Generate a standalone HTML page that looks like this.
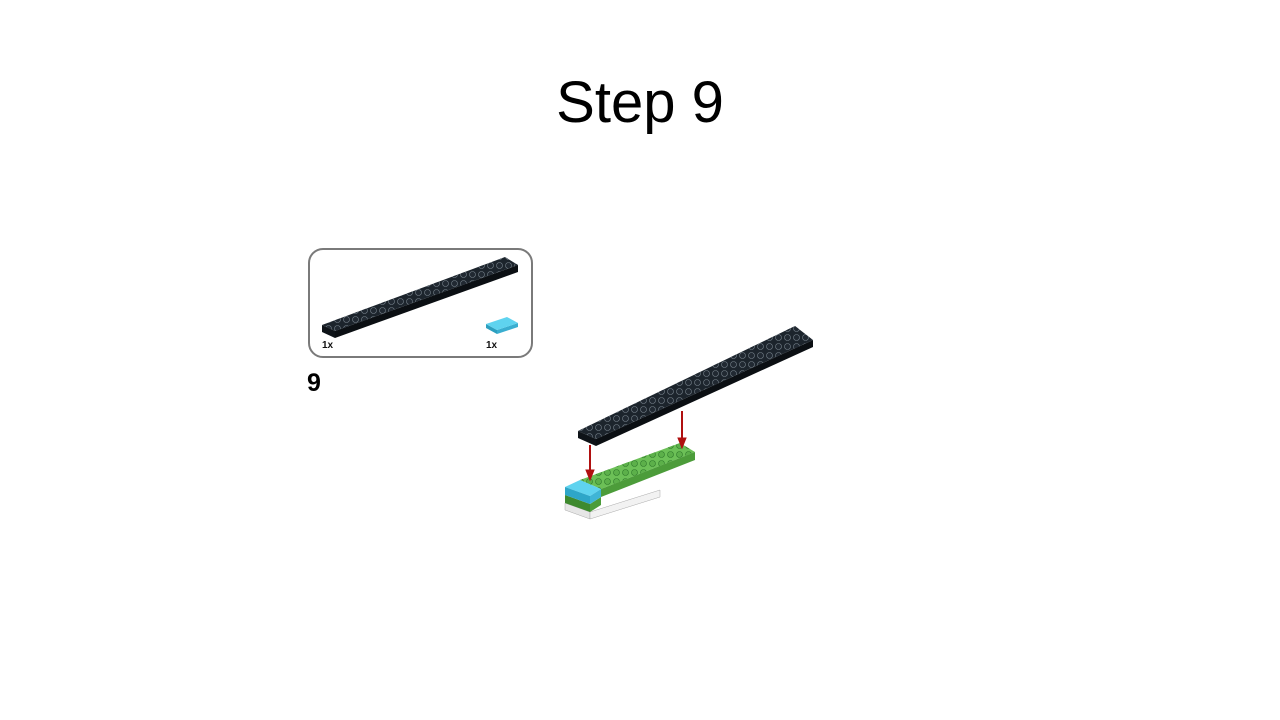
<!DOCTYPE html>
<html><head><meta charset="utf-8"><style>
html,body{margin:0;padding:0;background:#fff;}
#slide{position:relative;width:1280px;height:720px;overflow:hidden;font-family:"Liberation Sans",sans-serif;}
#title{position:absolute;left:0;top:69px;width:1280px;text-align:center;font-size:58px;color:#000;}
</style></head><body>
<div id="slide">
<div id="title">Step 9</div>
<svg width="1280" height="720" style="position:absolute;left:0;top:0">
<defs>
<pattern id="studs" width="9" height="9" patternUnits="userSpaceOnUse"><circle cx="4.5" cy="4.5" r="3" fill="#222a33" stroke="#8a96a0" stroke-width="0.6"/></pattern>
<pattern id="gstuds" width="9" height="9" patternUnits="userSpaceOnUse"><circle cx="4.5" cy="4.5" r="3" fill="#5cb04a" stroke="#2f7a2a" stroke-width="0.6"/></pattern>
</defs>
<g>
<rect x="309" y="249" width="223" height="108" rx="14" fill="#fff" stroke="#7a7a7a" stroke-width="2"/>
<g>
<polygon points="322,325 335,331 335,338 322,332" fill="#0e1318"/>
<polygon points="335,331 518,265 518,272 335,338" fill="#0b0f13"/>
<polygon points="322,325 505,257 518,265 335,331" fill="#1c242c"/>
<polygon points="322,325 505,257 518,265 335,331" fill="url(#studs)" opacity="0.8"/>
</g>
<g>
<polygon points="486,324 497,330 497,334 486,328" fill="#2c9fbf"/>
<polygon points="497,330 518,323 518,327 497,334" fill="#3aaed0"/>
<polygon points="486,324 507,317 518,323 497,330" fill="#5fd3ef"/>
</g>
<text x="322" y="348" font-size="10" font-weight="bold" fill="#111">1x</text>
<text x="486" y="348" font-size="10" font-weight="bold" fill="#111">1x</text>
</g>
<text x="307" y="391" font-size="25" font-weight="bold" fill="#000">9</text>
<g>
<polygon points="565,503 590,512 590,519 565,510" fill="#e6e6e6" stroke="#aaa" stroke-width="0.5"/>
<polygon points="590,512 660,490 660,497 590,519" fill="#f2f2f2" stroke="#aaa" stroke-width="0.5"/>
<polygon points="580,480 680,443 695,452 601,489" fill="#6cc057"/>
<polygon points="580,480 680,443 695,452 601,489" fill="url(#gstuds)"/>
<polygon points="601,489 695,452 695,460 601,497" fill="#4c9c3a"/>
<polygon points="565,495 590,504 590,512 565,503" fill="#3e8a2e"/>
<polygon points="590,504 601,497 601,505 590,512" fill="#4c9c3a"/>
<polygon points="565,487 580,480 601,489 590,496" fill="#5fd3ef"/>
<polygon points="565,487 590,496 590,504 565,495" fill="#2ea6c8"/>
<polygon points="590,496 601,489 601,497 590,504" fill="#3fb5d6"/>
</g>
<g>
<polygon points="578,431 596,439 596,446 578,438" fill="#0e1318"/>
<polygon points="596,439 813,340 813,347 596,446" fill="#0b0f13"/>
<polygon points="578,431 795,326 813,340 596,439" fill="#1c242c"/>
<polygon points="578,431 795,326 813,340 596,439" fill="url(#studs)" opacity="0.8"/>
</g>
<g stroke="#b01010" fill="#b01010">
<line x1="590" y1="445" x2="590" y2="472" stroke-width="2"/>
<polygon points="586,470 594,470 590,480"/>
<line x1="682" y1="411" x2="682" y2="440" stroke-width="2"/>
<polygon points="678,438 686,438 682,448"/>
</g>
</svg>
</div>
</body></html>
